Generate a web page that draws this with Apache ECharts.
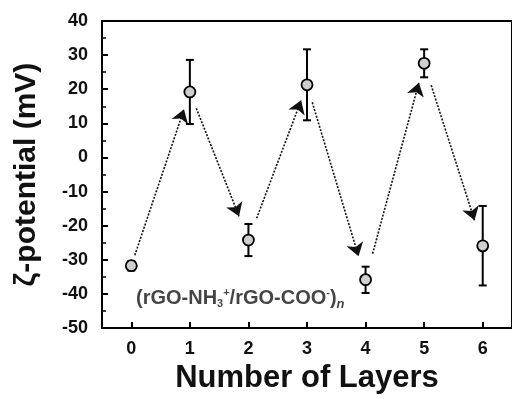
<!DOCTYPE html>
<html>
<head>
<meta charset="utf-8">
<script src="https://cdn.jsdelivr.net/npm/echarts@6/dist/echarts.min.js"></script>
<style>html,body{margin:0;padding:0;background:#fff;}#c{width:512px;height:399px;}</style>
</head>
<body>
<div id="c"></div>
<script>
// ---- data ----
var layers = [0, 1, 2, 3, 4, 5, 6];
var zeta = [-31.7, 19.2, -24.2, 21.3, -35.8, 27.6, -25.9];
var errLow = [-33.1, 9.8, -28.9, 10.9, -39.7, 23.5, -37.5];
var errHigh = [-30.4, 28.6, -19.5, 31.7, -32.0, 31.7, -14.2];
var arrowStartFrac = [0.06, 0.11, 0.14, 0.09, 0.12, 0.12];
var arrowEndFrac = [0.90, 0.84, 0.90, 0.88, 0.91, 0.86];
var yTicks = [-50, -40, -30, -20, -10, 0, 10, 20, 30, 40];
var xTicks = [0, 1, 2, 3, 4, 5, 6];
var annotationPos = [0.08, -41.4];

var FONT = '"Liberation Sans", Arial, sans-serif';

var points = layers.map(function (x, i) { return [x, zeta[i]]; });
var errData = layers.map(function (x, i) { return [x, errLow[i], errHigh[i]]; });
var arrows = [];
for (var i = 0; i < layers.length - 1; i++) {
  var x0 = layers[i], y0 = zeta[i], x1 = layers[i + 1], y1 = zeta[i + 1];
  var a = arrowStartFrac[i], b = arrowEndFrac[i];
  arrows.push({ coords: [[x0 + (x1 - x0) * a, y0 + (y1 - y0) * a], [x0 + (x1 - x0) * b, y0 + (y1 - y0) * b]] });
}

var chart = echarts.init(document.getElementById('c'), null, { renderer: 'canvas' });
chart.setOption({
  animation: false,
  backgroundColor: '#fff',
  grid: { left: 102, top: 21, right: -8, bottom: 70, show: true, borderColor: '#000', borderWidth: 2, backgroundColor: 'transparent' },
  xAxis: {
    type: 'value', min: -0.5, max: 6.5,
    name: 'Number of Layers', nameLocation: 'middle', nameGap: 33,
    nameTextStyle: { fontFamily: FONT, fontWeight: 'bold', fontSize: 31, color: '#111' },
    axisLine: { show: true, onZero: false, lineStyle: { color: '#000', width: 2 } },
    axisTick: { show: true, inside: true, length: 6, customValues: xTicks, lineStyle: { color: '#000', width: 2 } },
    axisLabel: { customValues: xTicks, margin: 12, fontFamily: FONT, fontWeight: 'bold', fontSize: 18, color: '#111' },
    splitLine: { show: false }
  },
  yAxis: {
    type: 'value', min: -50, max: 40, interval: 10,
    name: 'ζ-potential (mV)', nameLocation: 'middle', nameGap: 60, nameRotate: 90,
    nameTextStyle: { fontFamily: FONT, fontWeight: 'bold', fontSize: 30, color: '#111' },
    axisLine: { show: true, onZero: false, lineStyle: { color: '#000', width: 2 } },
    axisTick: { show: true, inside: true, length: 6, lineStyle: { color: '#000', width: 2 } },
    minorTick: { show: true, splitNumber: 2, length: 4, lineStyle: { color: '#000', width: 1.5 } },
    axisLabel: { margin: 14, fontFamily: FONT, fontWeight: 'bold', fontSize: 18, color: '#111' },
    splitLine: { show: false }
  },
  series: [
    {
      type: 'lines', coordinateSystem: 'cartesian2d', z: 2,
      symbol: ['none', 'arrow'], symbolSize: 13,
      lineStyle: { color: '#111', width: 1.6, type: [2, 1.5], opacity: 1 },
      data: arrows
    },
    {
      type: 'custom', z: 3,
      renderItem: function (params, api) {
        var x = api.value(0);
        var lo = api.coord([x, api.value(1)]);
        var hi = api.coord([x, api.value(2)]);
        var w = 4;
        var st = { stroke: '#000', lineWidth: 2, fill: null };
        return {
          type: 'group', children: [
            { type: 'line', shape: { x1: lo[0], y1: lo[1], x2: hi[0], y2: hi[1] }, style: st },
            { type: 'line', shape: { x1: lo[0] - w, y1: lo[1], x2: lo[0] + w, y2: lo[1] }, style: st },
            { type: 'line', shape: { x1: hi[0] - w, y1: hi[1], x2: hi[0] + w, y2: hi[1] }, style: st }
          ]
        };
      },
      encode: { x: 0, y: [1, 2] },
      data: errData
    },
    {
      type: 'scatter', z: 4, symbol: 'circle', symbolSize: 11,
      itemStyle: { color: '#cfcfcf', borderColor: '#000', borderWidth: 1.8, opacity: 1 },
      data: points
    },
    {
      type: 'scatter', z: 5, symbolSize: 0, silent: true,
      data: [annotationPos],
      label: {
        show: true, position: 'right', distance: 0,
        formatter: '{a|(rGO-NH}{sub|3}{sup|+}{a|/rGO-COO}{sup|-}{a|)}{it|n}',
        rich: {
          a: { fontFamily: FONT, fontWeight: 'bold', fontSize: 20, color: '#151515', lineHeight: 26 },
          sub: { fontFamily: FONT, fontWeight: 'bold', fontSize: 11, color: '#151515', padding: [11, 0, 0, 0], lineHeight: 26 },
          sup: { fontFamily: FONT, fontWeight: 'bold', fontSize: 11, color: '#151515', padding: [0, 0, 11, 0], lineHeight: 26 },
          it: { fontFamily: FONT, fontStyle: 'italic', fontWeight: 'bold', fontSize: 13, color: '#151515', padding: [11, 0, 0, 0], lineHeight: 26 }
        }
      }
    }
  ]
});
</script>
</body>
</html>
